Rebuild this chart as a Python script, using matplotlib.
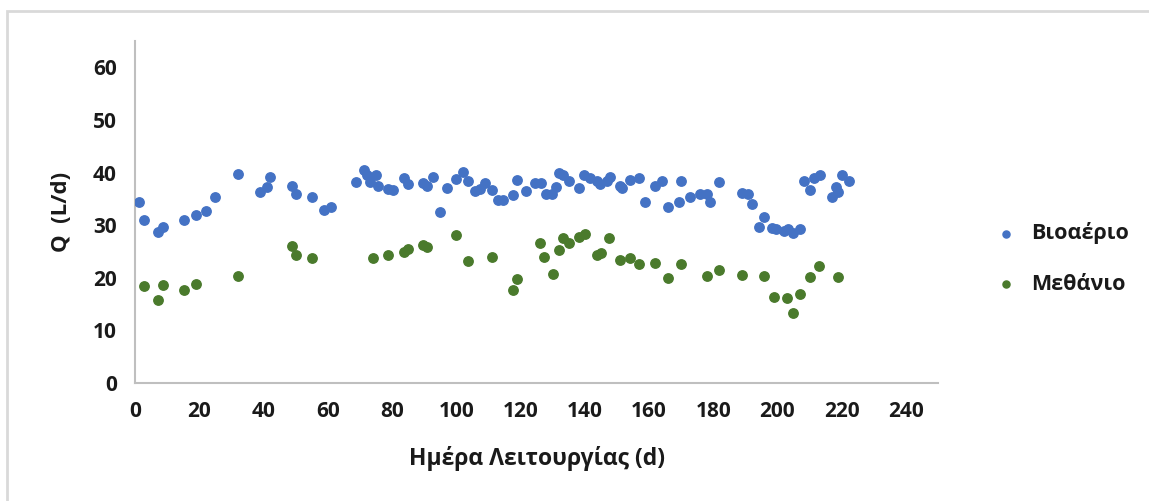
import matplotlib.pyplot as plt
from matplotlib.patches import Rectangle

# operation day (d) and flow (L/d) for biogas
day_biogas = [1.2, 2.9, 7.1, 8.8, 15.2, 19, 22, 25, 32.2, 38.9, 41, 42, 49, 50, 55, 58.7, 61,
              68.9, 71.2, 72.2, 73.2, 75.1, 75.8, 78.9, 80.3, 83.6, 85.1, 89.8, 91, 92.9, 94.8,
              97.1, 100, 102.1, 103.8, 105.9, 107.5, 109, 111.1, 112.9, 114.7, 117.8, 119, 121.8,
              124.6, 126.4, 128, 129.8, 131.1, 131.9, 133.2, 135, 138.1, 139.7, 141.7, 143.8,
              144.9, 146.8, 148, 150.9, 151.6, 154, 156.8, 158.9, 162, 164.1, 165.8, 169.3, 170,
              172.9, 176, 178.1, 178.9, 181.9, 189, 190.7, 192.1, 194.2, 195.9, 198.3, 199.4, 202,
              203.2, 204.9, 206.9, 208.2, 210, 211.5, 213.2, 217, 218.1, 218.8, 220.1, 222.2]
q_biogas = [34.4, 30.9, 28.7, 29.7, 30.9, 31.9, 32.7, 35.4, 39.7, 36.4, 37.3, 39.1, 37.5, 35.9,
            35.4, 32.8, 33.5, 38.2, 40.4, 39.5, 38.2, 39.5, 37.4, 36.8, 36.6, 38.9, 37.8, 38.0,
            37.4, 39.2, 32.5, 37.0, 38.7, 40.1, 38.4, 36.5, 36.8, 38.1, 36.6, 34.7, 34.7, 35.8,
            38.5, 36.5, 38.0, 38.0, 36.0, 35.9, 37.2, 39.9, 39.5, 38.4, 37.0, 39.5, 38.9, 38.4,
            37.8, 38.4, 39.2, 37.4, 37.0, 38.5, 39.0, 34.4, 37.4, 38.4, 33.4, 34.4, 38.4, 35.4,
            36.0, 36.0, 34.4, 38.2, 36.2, 36.0, 34.1, 29.7, 31.5, 29.4, 29.2, 28.9, 29.2, 28.6,
            29.2, 38.4, 36.6, 39.0, 39.5, 35.4, 37.2, 36.3, 39.6, 38.4]

# methane
day_methane = [2.9, 7.1, 8.8, 15.2, 19, 32.2, 49, 50, 55, 74.2, 78.9, 83.8, 85.1, 89.6, 91, 100,
               103.8, 111.1, 117.8, 119, 126, 127.2, 130.1, 131.9, 133.2, 135, 138.3, 140.2,
               143.8, 145, 147.7, 150.9, 154, 156.8, 162, 165.8, 170, 178.1, 181.9, 189, 195.9,
               198.8, 202.9, 204.9, 206.9, 210, 212.8, 218.8]
q_methane = [18.4, 15.8, 18.7, 17.6, 18.9, 20.4, 26.0, 24.4, 23.7, 23.7, 24.4, 24.9, 25.4, 26.2,
             25.9, 28.1, 23.2, 23.9, 17.7, 19.7, 26.7, 23.9, 20.8, 25.3, 27.5, 26.7, 27.8, 28.4,
             24.4, 24.8, 27.5, 23.4, 23.7, 22.6, 22.9, 19.9, 22.6, 20.4, 21.5, 20.6, 20.4, 16.4,
             16.1, 13.4, 17.0, 20.2, 22.3, 20.2]

x_ticks = list(range(0, 241, 20))
y_ticks = list(range(0, 61, 10))

plt.rcParams['font.family'] = ['Open Sans', 'DejaVu Sans']
text_col = "#1a1a1a"

fig = plt.figure(figsize=(11.49, 5.01), dpi=100)
ax = fig.add_axes([0.1175, 0.2355, 0.6989, 0.6825])

ax.scatter(day_biogas, q_biogas, s=46, color="#4472C4", label="Βιοαέριο", zorder=3)
ax.scatter(day_methane, q_methane, s=46, color="#4A7A2C", label="Μεθάνιο", zorder=3)

ax.set_xlim(0, 250)
ax.set_ylim(0, 65)
ax.set_xticks(x_ticks)
ax.set_yticks(y_ticks)
ax.tick_params(length=0, colors=text_col, pad=13)
ax.set_xticklabels([str(v) for v in x_ticks], fontsize=15, fontweight="bold")
ax.set_yticklabels([str(v) for v in y_ticks], fontsize=15, fontweight="bold")

for side in ["top", "right"]:
    ax.spines[side].set_visible(False)
for side in ["left", "bottom"]:
    ax.spines[side].set_color("#BFBFBF")
    ax.spines[side].set_linewidth(1.5)

ax.set_xlabel("Ημέρα Λειτουργίας (d)", fontsize=16.5, fontweight="bold", color=text_col)
ax.set_ylabel("Q  (L/d)", fontsize=16, fontweight="bold", color=text_col)
ax.xaxis.set_label_coords(0.5, -0.185)
ax.yaxis.set_label_coords(-0.079, 0.5)

leg = fig.legend(loc="center left", bbox_to_anchor=(0.84, 0.484), frameon=False,
                 prop={"size": 15.5, "weight": "bold"},
                 labelspacing=1.38, handletextpad=0.15, markerscale=0.75)
for t in leg.get_texts():
    t.set_color(text_col)

# light frame around the chart area
fig.patches.append(Rectangle((7 / 1149, -0.05), 1.1, 1 - 11 / 501 + 0.05,
                             transform=fig.transFigure, fill=False,
                             edgecolor="#D9D9D9", linewidth=2))

plt.savefig("out.png", dpi=100)
